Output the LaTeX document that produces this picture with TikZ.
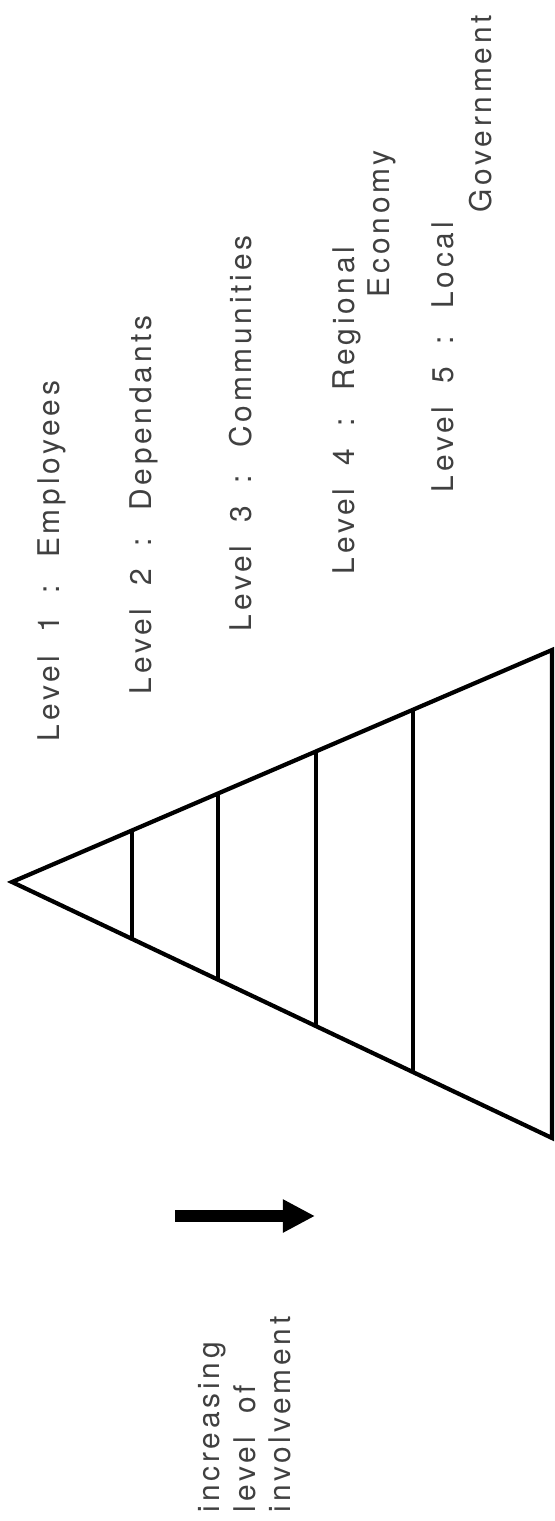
\documentclass[tikz,border=0pt]{standalone}
\usepackage{fontspec}
\setmainfont{TeX Gyre Heros}[LetterSpace=12.7,WordSpace=1.9]
\usetikzlibrary{arrows.meta}

\tikzset{
  lvl/.style={rotate=90, anchor=base west, inner sep=0pt, text=black!75,
    font=\fontsize{8.5}{10.1}\selectfont},
  pyr/.style={line width=1.2pt, line join=miter},
  tier/.style={line width=1.1pt},
}

\begin{document}
\begin{tikzpicture}[x=0.01cm, y=-0.01cm]
\useasboundingbox (0,0) rectangle (555,1521);
% pyramid, apex on the left
\coordinate (apex) at (12,882);
\coordinate (top) at (552,650);
\coordinate (bot) at (552,1138);
\draw[pyr] (apex) -- (top) -- (bot) -- cycle;
\draw[tier] (132,830.4) -- (132,938.9);
\draw[tier] (218,793.5) -- (218,979.7);
\draw[tier] (316,751.4) -- (316,1026.1);
\draw[tier] (413,709.7) -- (413,1072.1);
% levels
\node[lvl] (lvone) at (59,742) {Level 1 : Employees};
\node[lvl] (lvtwo) at (151,695) {Level 2 : Dependants};
\node[lvl] (lvthree) at (251,632) {Level 3 : Communities};
\node[lvl] (lvfour) at (354,575) {Level 4 : Regional};
\node[lvl] (econ) at (389,298) {Economy};
\node[lvl] (lvfive) at (453,493) {Level 5 : Local};
\node[lvl] (govt) at (491,213) {Government};
% arrow and note
\coordinate (tail) at (175,1216);
\coordinate (head) at (315,1216);
\draw[line width=3.4pt, -{Triangle[length=0.32cm, width=0.31cm]}] (tail) -- (head);
\node[lvl, align=left, anchor=north west] (note) at (198,1513) {increasing\\level of\\involvement};
\end{tikzpicture}
\end{document}
